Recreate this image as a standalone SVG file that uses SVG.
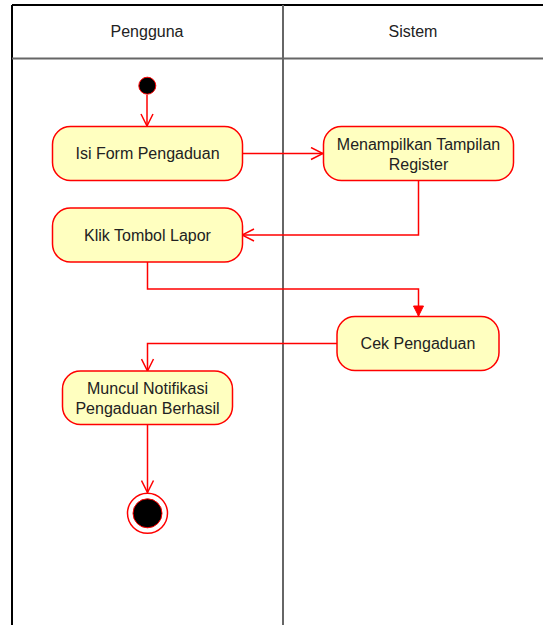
<svg xmlns="http://www.w3.org/2000/svg" width="543" height="625" viewBox="0 0 543 625">
<defs>
<style>
.lane-outer{stroke:#000;stroke-width:2;fill:none}
.lane-inner{stroke:#666;stroke-width:2;fill:none}
.act{fill:#ffffc0;stroke:#ff0000;stroke-width:1.5}
.lbl{font-family:"Liberation Sans",Arial,sans-serif;font-size:16px;fill:#222;text-anchor:middle}
.hdr{font-family:"Liberation Sans",Arial,sans-serif;font-size:16px;fill:#222;text-anchor:middle}
.edge{stroke:#ff0000;stroke-width:1.5;fill:none}
</style>
<marker id="open" viewBox="0 0 14 14" refX="13" refY="7" markerWidth="14" markerHeight="14" markerUnits="userSpaceOnUse" orient="auto">
<path d="M1,1 L13,7 L1,13" fill="none" stroke="#ff0000" stroke-width="1.5"/>
</marker>
<marker id="block" viewBox="0 0 12 12" refX="11" refY="6" markerWidth="12" markerHeight="12" markerUnits="userSpaceOnUse" orient="auto">
<path d="M1,1 L11,6 L1,11 Z" fill="#ff0000" stroke="#ff0000" stroke-width="1"/>
</marker>
</defs>
<rect width="543" height="625" fill="#fff"/>
<g id="swimlanes">
<line class="lane-outer" x1="12" y1="5" x2="543" y2="5"/>
<line class="lane-outer" x1="12" y1="5" x2="12" y2="625"/>
<line class="lane-inner" x1="12" y1="58.5" x2="543" y2="58.5"/>
<line class="lane-inner" x1="283" y1="5" x2="283" y2="625"/>
<text class="hdr" x="147" y="37">Pengguna</text>
<text class="hdr" x="413" y="37">Sistem</text>
</g>
<g id="connectors">
<path class="edge" d="M147,95 L147,126" marker-end="url(#open)"/>
<path class="edge" d="M242,153.5 L323,153.5" marker-end="url(#open)"/>
<path class="edge" d="M418.5,181 L418.5,235 L242,235" marker-end="url(#open)"/>
<path class="edge" d="M147.5,262 L147.5,289 L418.5,289 L418.5,316" marker-end="url(#block)"/>
<path class="edge" d="M337,343.5 L147.5,343.5 L147.5,371" marker-end="url(#open)"/>
<path class="edge" d="M147.5,424.5 L147.5,492.5" marker-end="url(#open)"/>
</g>
<g id="start">
<circle cx="147.3" cy="85.7" r="8.5" fill="#000" stroke="#ff0000" stroke-width="1"/>
</g>
<g id="isi-form">
<rect class="act" x="52.5" y="126.5" width="190" height="54" rx="18"/>
<text class="lbl" x="147.5" y="159">Isi Form Pengaduan</text>
</g>
<g id="menampilkan">
<rect class="act" x="323.5" y="126.5" width="190" height="54" rx="18"/>
<text class="lbl" x="418.5" y="149.5">Menampilkan Tampilan</text>
<text class="lbl" x="418.5" y="169.5">Register</text>
</g>
<g id="klik-tombol">
<rect class="act" x="52.5" y="208" width="190" height="54" rx="18"/>
<text class="lbl" x="147.5" y="240.5">Klik Tombol Lapor</text>
</g>
<g id="cek-pengaduan">
<rect class="act" x="337" y="316.5" width="162" height="54" rx="18"/>
<text class="lbl" x="418" y="349">Cek Pengaduan</text>
</g>
<g id="muncul-notifikasi">
<rect class="act" x="62.5" y="371" width="170" height="53.5" rx="18"/>
<text class="lbl" x="147.5" y="394">Muncul Notifikasi</text>
<text class="lbl" x="147.5" y="414">Pengaduan Berhasil</text>
</g>
<g id="end">
<circle cx="147.5" cy="513.3" r="20" fill="#fff" stroke="#ff0000" stroke-width="1.5"/>
<circle cx="147.5" cy="513.3" r="14.5" fill="#000" stroke="#ff0000" stroke-width="1"/>
</g>
</svg>
